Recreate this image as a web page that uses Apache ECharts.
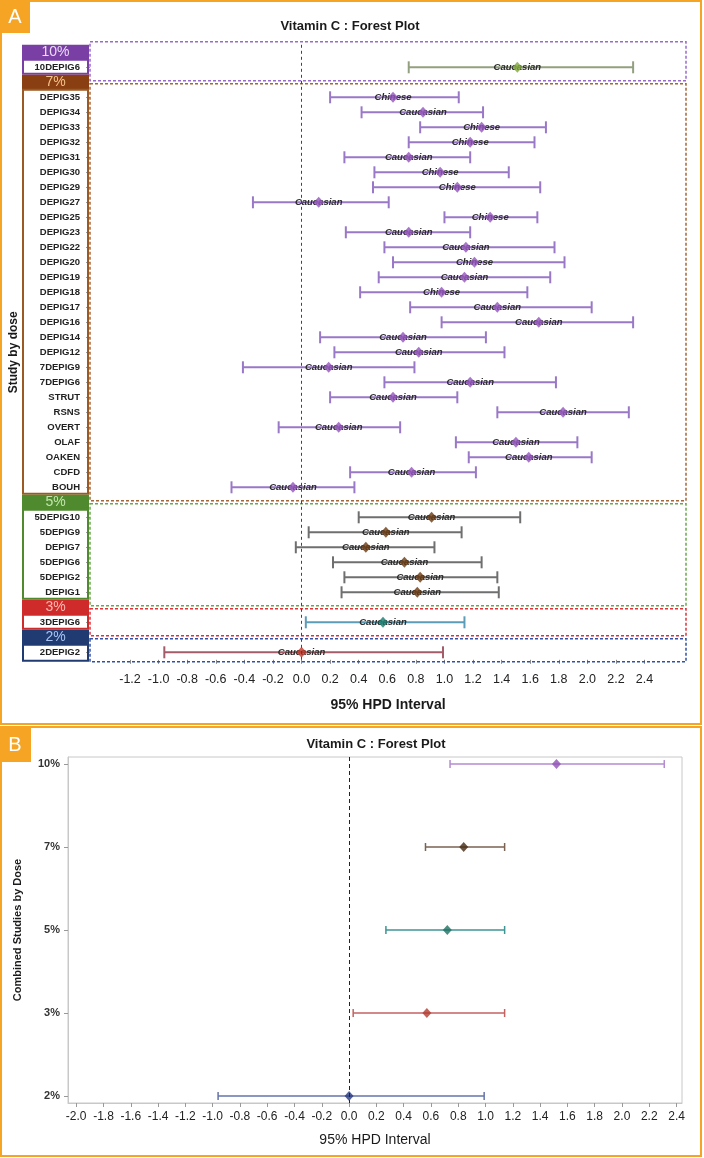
<!DOCTYPE html>
<html><head><meta charset="utf-8">
<script src="https://cdn.jsdelivr.net/npm/echarts@6/dist/echarts.min.js"></script>
<style>html,body{margin:0;padding:0;background:#fff;} #c{width:704px;height:1158px;}</style>
</head><body><div id="c"></div>
<script>
// ---------- DATA ----------
const doseGroups = ['10%', '7%', '5%', '3%', '2%'];

const studyNames = ['10DEPIG6',
  'DEPIG35','DEPIG34','DEPIG33','DEPIG32','DEPIG31','DEPIG30','DEPIG29','DEPIG27','DEPIG25','DEPIG23',
  'DEPIG22','DEPIG20','DEPIG19','DEPIG18','DEPIG17','DEPIG16','DEPIG14','DEPIG12','7DEPIG9','7DEPIG6',
  'STRUT','RSNS','OVERT','OLAF','OAKEN','CDFD','BOUH',
  '5DEPIG10','5DEPIG9','DEPIG7','5DEPIG6','5DEPIG2','DEPIG1',
  '3DEPIG6',
  '2DEPIG2'];
const studyDose = ['10%',
  '7%','7%','7%','7%','7%','7%','7%','7%','7%','7%',
  '7%','7%','7%','7%','7%','7%','7%','7%','7%','7%',
  '7%','7%','7%','7%','7%','7%','7%',
  '5%','5%','5%','5%','5%','5%',
  '3%',
  '2%'];
const studyMean = [1.51,
  0.64, 0.85, 1.26, 1.18, 0.75, 0.97, 1.09, 0.12, 1.32, 0.75,
  1.15, 1.21, 1.14, 0.98, 1.37, 1.66, 0.71, 0.82, 0.19, 1.18,
  0.64, 1.83, 0.26, 1.50, 1.59, 0.77, -0.06,
  0.91, 0.59, 0.45, 0.72, 0.83, 0.81,
  0.57,
  0.00];
const studyLower = [0.75,
  0.20, 0.42, 0.83, 0.75, 0.30, 0.51, 0.50, -0.34, 1.00, 0.31,
  0.58, 0.64, 0.54, 0.41, 0.76, 0.98, 0.13, 0.23, -0.41, 0.58,
  0.20, 1.37, -0.16, 1.08, 1.17, 0.34, -0.49,
  0.40, 0.05, -0.04, 0.22, 0.30, 0.28,
  0.03,
  -0.96];
const studyUpper = [2.32,
  1.10, 1.27, 1.71, 1.63, 1.18, 1.45, 1.67, 0.61, 1.65, 1.18,
  1.77, 1.84, 1.74, 1.58, 2.03, 2.32, 1.29, 1.42, 0.79, 1.78,
  1.09, 2.29, 0.69, 1.93, 2.03, 1.22, 0.37,
  1.53, 1.12, 0.93, 1.26, 1.37, 1.38,
  1.14,
  0.99];
const studyEthnicity = ['Caucasian',
  'Chinese','Caucasian','Chinese','Chinese','Caucasian','Chinese','Chinese','Caucasian','Chinese','Caucasian',
  'Caucasian','Chinese','Caucasian','Chinese','Caucasian','Caucasian','Caucasian','Caucasian','Caucasian','Caucasian',
  'Caucasian','Caucasian','Caucasian','Caucasian','Caucasian','Caucasian','Caucasian',
  'Caucasian','Caucasian','Caucasian','Caucasian','Caucasian','Caucasian',
  'Caucasian',
  'Caucasian'];

const combinedDose  = ['10%', '7%', '5%', '3%', '2%'];
const combinedMean  = [1.52, 0.84, 0.72, 0.57, 0.00];
const combinedLower = [0.74, 0.56, 0.27, 0.03, -0.96];
const combinedUpper = [2.31, 1.14, 1.14, 1.14, 0.99];

const ticksA = [-1.2,-1.0,-0.8,-0.6,-0.4,-0.2,0.0,0.2,0.4,0.6,0.8,1.0,1.2,1.4,1.6,1.8,2.0,2.2,2.4];
const ticksB = [-2.0,-1.8,-1.6,-1.4,-1.2,-1.0,-0.8,-0.6,-0.4,-0.2,0.0,0.2,0.4,0.6,0.8,1.0,1.2,1.4,1.6,1.8,2.0,2.2,2.4];

// ---------- STYLES ----------
const groupStyle = {
  '10%': {head:'#7a3fa5', headText:'#eadcf5', box:'#7a3fa5', dash:'#9a6acb', line:'#93a07f', dot:'#7fa83a'},
  '7%':  {head:'#8a3f12', headText:'#f3c38a', box:'#9a5a22', dash:'#a5653a', line:'#9a78c8', dot:'#9455bb'},
  '5%':  {head:'#4f8a2e', headText:'#c4e6ae', box:'#4f8a2e', dash:'#6aa84f', line:'#6f6f6f', dot:'#6a3a12'},
  '3%':  {head:'#cf2b2b', headText:'#ffb8b0', box:'#cf2b2b', dash:'#e0303a', line:'#5b9cb8', dot:'#187a6c'},
  '2%':  {head:'#1f3b72', headText:'#aac4f2', box:'#1f3b72', dash:'#3050a8', line:'#a35c68', dot:'#c0392b'}
};
const combinedStyle = {
  '10%': {line:'#b58bd0', dot:'#8e4fb5'},
  '7%':  {line:'#7b6253', dot:'#452810'},
  '5%':  {line:'#3f9494', dot:'#1c6f62'},
  '3%':  {line:'#c46262', dot:'#b23b30'},
  '2%':  {line:'#6474aa', dot:'#283a80'}
};
const FONT = '"Liberation Sans", Arial, sans-serif';
const NARROW = '"Liberation Sans Narrow", "Liberation Sans", Arial, sans-serif';
const ORANGE = '#f5a523';

// ---------- ROWS (panel A) ----------
const rowsA = [];
doseGroups.forEach(g => {
  rowsA.push({type:'head', dose:g});
  studyNames.forEach((n, i) => { if (studyDose[i] === g) rowsA.push({type:'study', idx:i}); });
});
const catA = rowsA.map(r => r.type === 'head' ? '#' + r.dose : studyNames[r.idx]);
const rowOfStudy = {};
rowsA.forEach((r, k) => { if (r.type === 'study') rowOfStudy[r.idx] = k; });
const headRows = doseGroups.map(g => rowsA.findIndex(r => r.type === 'head' && r.dose === g));

const chart = echarts.init(document.getElementById('c'), null, {renderer:'canvas'});

const option = {
  backgroundColor:'#fff',
  animation:false,
  textStyle:{fontFamily:FONT},
  graphic:[
    {type:'rect', shape:{x:1, y:1, width:700, height:723}, style:{fill:'none', stroke:ORANGE, lineWidth:2}, z:100},
    {type:'rect', shape:{x:1, y:727, width:700, height:429}, style:{fill:'none', stroke:ORANGE, lineWidth:2}, z:100},
    {type:'rect', shape:{x:0, y:0, width:30, height:33}, style:{fill:ORANGE}, z:101},
    {type:'text', x:15, y:17, style:{text:'A', fill:'#fff', font:'20px '+NARROW, align:'center', verticalAlign:'middle'}, z:102},
    {type:'rect', shape:{x:0, y:727, width:31, height:35}, style:{fill:ORANGE}, z:101},
    {type:'text', x:15, y:745, style:{text:'B', fill:'#fff', font:'20px '+NARROW, align:'center', verticalAlign:'middle'}, z:102},
    {type:'text', x:350, y:26, style:{text:'Vitamin C : Forest Plot', fill:'#1a1a1a', font:'bold 13px '+FONT, align:'center', verticalAlign:'middle'}},
    {type:'text', x:376, y:744, style:{text:'Vitamin C : Forest Plot', fill:'#1a1a1a', font:'bold 13px '+FONT, align:'center', verticalAlign:'middle'}}
  ],
  grid:[
    {left:88, top:44.8, width:598, height:615, show:false},
    {left:68, top:757, width:614, height:346, show:true, borderColor:'#c8c8c8', borderWidth:1}
  ],
  xAxis:[
    {gridIndex:0, type:'value', min:-1.48, max:2.69,
      axisLine:{show:false, onZero:false}, splitLine:{show:false},
      axisTick:{show:true, customValues:ticksA, length:4, lineStyle:{color:'#888'}},
      axisLabel:{customValues:ticksA, formatter:v => v.toFixed(1), color:'#222', fontSize:12.5, margin:13},
      name:'95% HPD Interval', nameLocation:'middle', nameGap:38,
      nameTextStyle:{fontWeight:'bold', fontSize:14, color:'#1a1a1a'}},
    {gridIndex:1, type:'value', min:-2.06, max:2.44,
      axisLine:{show:true, onZero:false, lineStyle:{color:'#c8c8c8'}}, splitLine:{show:false},
      axisTick:{show:true, customValues:ticksB, length:4, lineStyle:{color:'#999'}},
      axisLabel:{customValues:ticksB, formatter:v => v.toFixed(1), color:'#222', fontSize:12, margin:8},
      name:'95% HPD Interval', nameLocation:'middle', nameGap:30,
      nameTextStyle:{fontSize:14, color:'#1a1a1a'}}
  ],
  yAxis:[
    {gridIndex:0, type:'category', data:catA, inverse:true,
      axisLine:{show:false, onZero:false}, splitLine:{show:false},
      axisTick:{show:true, alignWithLabel:true, length:4, interval:(i) => rowsA[i].type === 'study', lineStyle:{color:'#999'}},
      axisLabel:{interval:0, formatter:(v, i) => rowsA[i].type === 'study' ? v : '', fontWeight:'bold', fontSize:9.5, color:'#222', margin:10},
      name:'Study by dose', nameLocation:'middle', nameGap:70,
      nameTextStyle:{fontWeight:'bold', fontSize:12, color:'#1a1a1a'}},
    {gridIndex:1, type:'value', inverse:true, min:-0.085, max:4.085,
      axisLine:{show:true, onZero:false, lineStyle:{color:'#c8c8c8'}}, splitLine:{show:false},
      axisTick:{show:true, customValues:combinedDose.map((d, i) => i), length:4, lineStyle:{color:'#999'}},
      axisLabel:{customValues:combinedDose.map((d, i) => i), formatter:v => combinedDose[Math.round(v)], fontWeight:'bold', fontSize:11, color:'#333', margin:8},
      name:'Combined Studies by Dose', nameLocation:'middle', nameGap:45,
      nameTextStyle:{fontWeight:'bold', fontSize:11, color:'#1a1a1a'}}
  ],
  series:[
    // group frames / label column (panel A)
    {type:'custom', xAxisIndex:0, yAxisIndex:0, clip:false, silent:true, z:1,
      data: doseGroups.map((g, gi) => [0, headRows[gi], gi]),
      encode:{x:0, y:1},
      renderItem:(params, api) => {
        const gi = api.value(2);
        const g = doseGroups[gi];
        const st = groupStyle[g];
        const cs = params.coordSys;
        const band = api.size([0, 1])[1];
        const yc = api.coord([0, headRows[gi]])[1];
        const last = gi === doseGroups.length - 1;
        const nextYc = last ? null : api.coord([0, headRows[gi + 1]])[1];
        const colL = 22, colR = cs.x - 1;
        const boxTop = yc + band / 2;
        const boxBottom = last ? cs.y + cs.height + 2 : nextYc - band / 2;
        const dashTop = gi === 0 ? cs.y - 3 : yc + 1.5;
        const dashBot = last ? cs.y + cs.height + 2 : nextYc - 1.5;
        return {type:'group', children:[
          {type:'rect', shape:{x:cs.x, y:dashTop, width:cs.width, height:dashBot - dashTop},
            style:{fill:'none', stroke:st.dash, lineWidth:1.5, lineDash:[3, 2]}},
          {type:'rect', shape:{x:colL, y:yc - band / 2, width:colR - colL, height:band}, style:{fill:st.head}},
          {type:'text', x:(colL + colR) / 2, y:yc,
            style:{text:g, fill:st.headText, font:'14px ' + NARROW, align:'center', verticalAlign:'middle'}},
          {type:'rect', shape:{x:colL + 1, y:boxTop, width:colR - colL - 2, height:boxBottom - boxTop - 1},
            style:{fill:'none', stroke:st.box, lineWidth:2}}
        ]};
      }
    },
    // error bars + ethnicity labels (panel A)
    {type:'custom', xAxisIndex:0, yAxisIndex:0, silent:true, z:2,
      data: studyNames.map((n, i) => [studyLower[i], studyUpper[i], rowOfStudy[i], studyMean[i], i]),
      encode:{x:[0, 1, 3], y:2},
      renderItem:(params, api) => {
        const i = api.value(4);
        const st = groupStyle[studyDose[i]];
        const y = api.value(2);
        const lo = api.coord([api.value(0), y]);
        const hi = api.coord([api.value(1), y]);
        const mid = api.coord([api.value(3), y]);
        const h = 6;
        const ls = {stroke:st.line, lineWidth:2};
        return {type:'group', children:[
          {type:'line', shape:{x1:lo[0], y1:lo[1], x2:hi[0], y2:hi[1]}, style:ls},
          {type:'line', shape:{x1:lo[0], y1:lo[1] - h, x2:lo[0], y2:lo[1] + h}, style:ls},
          {type:'line', shape:{x1:hi[0], y1:hi[1] - h, x2:hi[0], y2:hi[1] + h}, style:ls},
          {type:'text', x:mid[0], y:mid[1] + 0.5,
            style:{text:studyEthnicity[i], font:'italic bold 9.5px ' + FONT, fill:'#2b2b2b', align:'center', verticalAlign:'middle'}}
        ]};
      }
    },
    // diamonds (panel A)
    {type:'scatter', xAxisIndex:0, yAxisIndex:0, z:3, symbol:'diamond', symbolSize:[10, 11], silent:true,
      data: studyNames.map((n, i) => ({value:[studyMean[i], rowOfStudy[i]], itemStyle:{color:groupStyle[studyDose[i]].dot}})),
      markLine:{silent:true, symbol:['none', 'none'], label:{show:false},
        lineStyle:{color:'#444', type:[3, 3], width:1}, data:[{xAxis:0}]}
    },
    // error bars (panel B)
    {type:'custom', xAxisIndex:1, yAxisIndex:1, silent:true, z:2,
      data: combinedDose.map((d, i) => [combinedLower[i], combinedUpper[i], i]),
      encode:{x:[0, 1], y:2},
      renderItem:(params, api) => {
        const i = api.value(2);
        const st = combinedStyle[combinedDose[i]];
        const lo = api.coord([api.value(0), i]);
        const hi = api.coord([api.value(1), i]);
        const h = 4;
        const ls = {stroke:st.line, lineWidth:1.5};
        return {type:'group', children:[
          {type:'line', shape:{x1:lo[0], y1:lo[1], x2:hi[0], y2:hi[1]}, style:ls},
          {type:'line', shape:{x1:lo[0], y1:lo[1] - h, x2:lo[0], y2:lo[1] + h}, style:ls},
          {type:'line', shape:{x1:hi[0], y1:hi[1] - h, x2:hi[0], y2:hi[1] + h}, style:ls}
        ]};
      }
    },
    // diamonds (panel B)
    {type:'scatter', xAxisIndex:1, yAxisIndex:1, z:3, symbol:'diamond', symbolSize:[9, 10], silent:true,
      data: combinedDose.map((d, i) => ({value:[combinedMean[i], i], itemStyle:{color:combinedStyle[d].dot}})),
      markLine:{silent:true, symbol:['none', 'none'], label:{show:false},
        lineStyle:{color:'#222', type:[4, 3], width:1}, data:[{xAxis:0}]}
    }
  ]
};
chart.setOption(option);
</script>
</body></html>
